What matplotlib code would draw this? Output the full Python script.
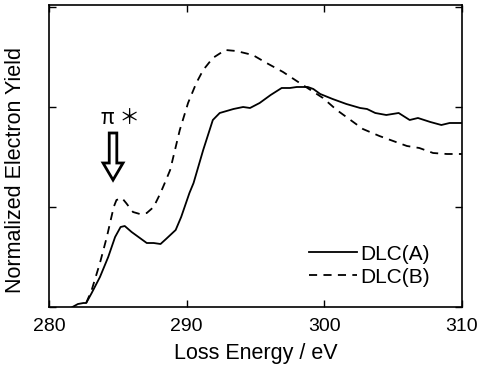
import numpy as np
import matplotlib
matplotlib.use("Agg")
import matplotlib.pyplot as plt

plt.rcParams['font.family'] = ['Liberation Sans', 'DejaVu Sans']

# === DATOS ===
x_a = [281.7, 282.1, 282.5, 282.7, 283.1, 283.7, 284.3, 284.8, 285.2, 285.5,
       286.0, 286.6, 287.1, 287.6, 288.1, 288.5, 289.2, 289.6, 290.2, 290.5,
       291.2, 291.9, 292.4, 293.4, 294.1, 294.6, 295.3, 296.1, 296.9, 297.5,
       298.0, 298.8, 299.2, 299.7, 300.6, 301.6, 302.6, 303.1, 303.7, 304.5,
       305.4, 306.2, 306.8, 307.7, 308.5, 309.1, 310.0]
y_a = [0.00, 0.03, 0.04, 0.04, 0.14, 0.30, 0.50, 0.70, 0.80, 0.81,
       0.75, 0.69, 0.64, 0.64, 0.63, 0.68, 0.77, 0.90, 1.14, 1.24,
       1.57, 1.87, 1.94, 1.98, 2.00, 1.99, 2.04, 2.12, 2.19, 2.19,
       2.20, 2.20, 2.18, 2.13, 2.08, 2.03, 1.99, 1.98, 1.94, 1.92,
       1.94, 1.87, 1.89, 1.85, 1.82, 1.84, 1.84]

x_b = [282.7, 283.1, 283.7, 284.2, 284.7, 284.9, 285.3, 285.6, 286.1, 286.6,
       287.1, 287.6, 288.1, 288.5, 288.8, 289.5, 290.1, 290.7, 291.2, 291.9,
       292.8, 293.6, 294.8, 295.8, 297.0, 298.1, 299.0, 299.9, 300.9, 301.9,
       302.8, 304.0, 305.0, 306.0, 306.9, 307.9, 308.9, 310.0]
y_b = [0.04, 0.17, 0.44, 0.70, 1.00, 1.07, 1.09, 1.04, 0.95, 0.93,
       0.94, 1.00, 1.14, 1.27, 1.37, 1.77, 2.04, 2.24, 2.37, 2.49,
       2.57, 2.56, 2.52, 2.44, 2.35, 2.25, 2.17, 2.09, 1.97, 1.87,
       1.78, 1.71, 1.66, 1.61, 1.59, 1.54, 1.53, 1.53]

etiquetas = ["DLC(A)", "DLC(B)"]
xticks = [280, 290, 300, 310]
yticks = [0, 1, 2, 3]

# === GRAFICO ===
fig = plt.figure(figsize=(4.81, 3.72), dpi=100)
ax = fig.add_axes([0.1019, 0.1747, 0.8586, 0.8119])

ax.plot(x_a, y_a, color="black", lw=1.3, label=etiquetas[0])
ax.plot(x_b, y_b, color="black", lw=1.3, dashes=(4.5, 3.5), label=etiquetas[1])

ax.set_xlim(280, 310)
ax.set_ylim(0, 3.02)
ax.set_xticks(xticks)
ax.set_yticks(yticks)
ax.set_yticklabels([])
ax.tick_params(direction="in", length=5, width=1, top=True, right=True,
               labelsize=14, pad=8)
for s in ax.spines.values():
    s.set_linewidth(1.2)

ax.set_xlabel("Loss Energy / eV", fontsize=15.5, labelpad=6)
ax.set_ylabel("Normalized Electron Yield", fontsize=15.5)
ax.yaxis.set_label_coords(-0.055, 0.455)

# flecha pi*
ax.arrow(284.65, 1.74, 0, -0.47, width=0.55, head_width=1.45, head_length=0.17,
         length_includes_head=True, facecolor="white", edgecolor="black", lw=2)
ax.text(285.2, 1.89, "π ＊", fontsize=15, ha="center", va="center",
        family=['Noto Sans CJK JP', 'DejaVu Sans'])

ax.legend(loc="lower right", bbox_to_anchor=(0.968, 0.005), frameon=False, fontsize=15,
          handlelength=2.3, handletextpad=0.15, labelspacing=0.2)

plt.savefig("out.png", dpi=100)
